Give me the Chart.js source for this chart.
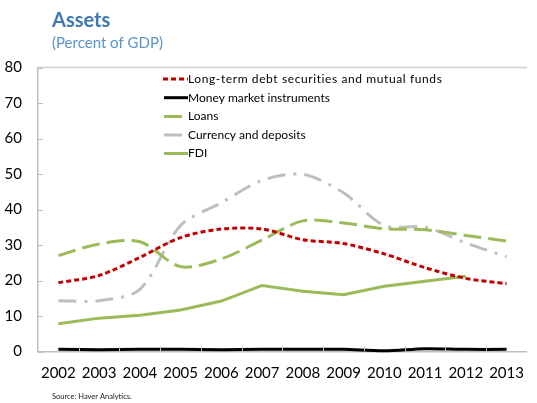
<!DOCTYPE html>
<html>
<head>
<meta charset="utf-8">
<script src="https://cdn.jsdelivr.net/npm/chart.js@4.4.1/dist/chart.umd.min.js"></script>
<style>
  html, body { margin: 0; padding: 0; background: #fff; }
  #wrap { position: relative; width: 537px; height: 403px; }
</style>
</head>
<body>
<div id="wrap"><canvas id="c" width="537" height="403"></canvas></div>
<script>
// ---- Data (percent of GDP) ----
const years = ['2002','2003','2004','2005','2006','2007','2008','2009','2010','2011','2012','2013'];
const longTermDebt = [19.4, 21.4, 26.5, 32.1, 34.5, 34.5, 31.5, 30.4, 27.5, 23.6, 20.6, 19.1];
const moneyMarket  = [0.6, 0.5, 0.6, 0.6, 0.5, 0.6, 0.6, 0.6, 0.2, 0.8, 0.6, 0.6];
const loans        = [27.0, 30.3, 30.9, 23.9, 26.1, 31.4, 36.8, 36.2, 34.6, 34.3, 32.7, 31.1];
const currency     = [14.3, 14.3, 17.5, 35.5, 41.9, 48.2, 49.9, 44.7, 35.5, 35.0, 30.6, 26.7];
const fdi          = [7.8, 9.4, 10.2, 11.7, 14.2, 18.6, 17.0, 16.0, 18.4, 19.8, 21.2, null];
const yTicks = [0, 10, 20, 30, 40, 50, 60, 70, 80];
const seriesNames = ['Long-term debt securities and mutual funds', 'Money market instruments', 'Loans', 'Currency and deposits', 'FDI'];

const FONT = 'Lato, "Open Sans", sans-serif';
const AXIS = '#BFBFBF';

// legend sample geometry (start, end) per series
const legendSample = [[163, 188], [164, 188], [164, 182], [164, 182], [164, 188]];
const legendRows = [79, 97.7, 116.5, 135, 153.5];
const legendSpacing = ['0.6px', '0px', '0px', '0px', '0px'];

const overlay = {
  id: 'overlay',
  afterDraw(chart) {
    const { ctx, chartArea: a, scales } = chart;
    const x = scales.x, y = scales.y;
    ctx.save();
    // top border
    ctx.strokeStyle = '#CFCFCF';
    ctx.lineWidth = 1.5;
    ctx.beginPath(); ctx.moveTo(a.left, a.top); ctx.lineTo(a.right, a.top); ctx.stroke();
    // inside ticks on y
    ctx.strokeStyle = AXIS;
    ctx.lineWidth = 1;
    y.ticks.forEach(t => {
      const py = Math.round(y.getPixelForValue(t.value)) + 0.5;
      ctx.beginPath(); ctx.moveTo(a.left, py); ctx.lineTo(a.left + 5, py); ctx.stroke();
    });
    // inside ticks on x (category boundaries)
    for (let i = 0; i < years.length - 1; i++) {
      const px = Math.round((x.getPixelForValue(i) + x.getPixelForValue(i + 1)) / 2) + 0.5;
      ctx.beginPath(); ctx.moveTo(px, a.bottom); ctx.lineTo(px, a.bottom - 5); ctx.stroke();
    }
    // title & subtitle
    ctx.textBaseline = 'alphabetic';
    ctx.textAlign = 'left';
    ctx.fillStyle = '#3F78B3';
    ctx.font = 'bold 20px ' + FONT;
    ctx.fillText('Assets', 52, 27);
    ctx.fillStyle = '#5B93CD';
    ctx.font = '15px ' + FONT;
    ctx.fillText('(Percent of GDP)', 52, 48);
    // source
    ctx.fillStyle = '#222';
    ctx.font = '7.5px ' + FONT;
    ctx.fillText('Source: Haver Analytics.', 52, 399);
    // legend
    ctx.font = '12px ' + FONT;
    ctx.textBaseline = 'middle';
    chart.data.datasets.forEach((ds, i) => {
      const yy = legendRows[i];
      const [x0, x1] = legendSample[i];
      ctx.save();
      ctx.strokeStyle = ds.borderColor;
      ctx.lineWidth = ds.borderWidth;
      ctx.setLineDash(i === 0 ? [5, 3] : []);
      ctx.beginPath(); ctx.moveTo(x0, yy); ctx.lineTo(x1, yy); ctx.stroke();
      ctx.restore();
      ctx.save();
      ctx.fillStyle = '#000';
      if ('letterSpacing' in ctx) ctx.letterSpacing = legendSpacing[i];
      ctx.fillText(ds.label, 188, yy);
      ctx.restore();
    });
    ctx.restore();
  }
};

const mk = (label, data, color, dash, tension, width) => ({
  label, data,
  borderColor: color,
  backgroundColor: color,
  borderWidth: width,
  borderDash: dash,
  borderCapStyle: 'butt',
  pointRadius: 0,
  pointHoverRadius: 0,
  tension,
  fill: false,
  clip: false,
  spanGaps: false
});

new Chart(document.getElementById('c'), {
  type: 'line',
  data: {
    labels: years,
    datasets: [
      mk(seriesNames[0], longTermDebt, '#C00000', [5, 3], 0.3, 3),
      mk(seriesNames[1], moneyMarket, '#000000', [], 0.3, 3),
      mk(seriesNames[2], loans, '#9BBB59', [18, 7], 0.3, 3),
      mk(seriesNames[3], currency, '#BFBFBF', [18, 8, 3, 8], 0.3, 3),
      mk(seriesNames[4], fdi, '#9BBB59', [], 0, 3)
    ]
  },
  options: {
    responsive: false,
    animation: false,
    events: [],
    layout: { padding: { top: 67.5, left: 0, right: 1, bottom: 0 } },
    plugins: { legend: { display: false }, tooltip: { enabled: false }, title: { display: false } },
    scales: {
      x: {
        type: 'category',
        offset: true,
        grid: { display: false, drawTicks: false },
        border: { display: true, color: AXIS, width: 1.5 },
        ticks: { color: '#000', font: { family: FONT, size: 15 }, padding: 13, maxRotation: 0, autoSkip: false },
        afterFit(s) { s.height = 51.5; }
      },
      y: {
        min: 0, max: 80,
        afterBuildTicks(s) { s.ticks = yTicks.map(v => ({ value: v })); },
        grid: { display: false, drawTicks: false },
        border: { display: true, color: AXIS, width: 1.5 },
        ticks: { color: '#000', font: { family: FONT, size: 15 }, padding: 16 },
        afterFit(s) { s.width = 38; }
      }
    }
  },
  plugins: [overlay]
});
</script>
</body>
</html>
